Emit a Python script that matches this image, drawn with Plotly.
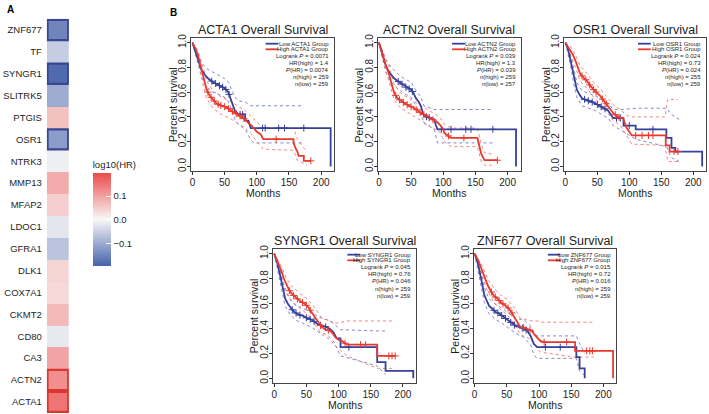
import numpy as np
import plotly.graph_objects as go

W, H = 709, 414
FONT = "Liberation Sans, Arial, Helvetica, sans-serif"
INK = "#1e1e1e"
BLUE = "#35419a"; RED = "#e8392f"
BLUE_DOT = "#6f78c8"; RED_DOT = "#f0776f"

# ── panel A: log10(HR) heatmap ──
GENES = ["ZNF677", "TF", "SYNGR1", "SLITRK5", "PTGIS", "OSR1", "NTRK3", "MMP13", "MFAP2",
         "LDOC1", "GFRA1", "DLK1", "COX7A1", "CKMT2", "CD80", "CA3", "ACTN2", "ACTA1"]
LOG10_HR = [-0.15, -0.056, -0.185, -0.10, 0.062, -0.12, -0.012, 0.085, 0.046,
            -0.023, -0.068, 0.04, 0.036, 0.07, -0.02, 0.095, 0.119, 0.148]
BOX_LOW = ["ZNF677", "SYNGR1", "OSR1"]
BOX_HIGH = ["ACTN2", "ACTA1"]
CB_TICKS = [-0.1, 0.0, 0.1]
CB_LABELS = ["\u22120.1", "0.0", "0.1"]
Z_LIM = 0.195

# ── panel B: Kaplan-Meier curves (months, survival) ──
MONTH_TICKS = [0, 50, 100, 150, 200]
SURV_TICKS = [0.0, 0.2, 0.4, 0.6, 0.8, 1.0]
SURV_LABELS = ["0.0", "0.2", "0.4", "0.6", "0.8", "1.0"]

# ACTA1
ACTA1_LOW_T = [0, 14, 19.3, 24.5, 32.3, 42.7, 50.5, 55.7, 61, 66, 71.4, 81.8, 81.8, 87, 90.6, 214.7, 214.7]
ACTA1_LOW_S = [1.0, 0.78, 0.74, 0.71, 0.68, 0.65, 0.63, 0.60, 0.525, 0.45, 0.42, 0.42, 0.37, 0.37, 0.31, 0.31, 0.0]
ACTA1_HIGH_T = [0, 5, 9, 13, 17, 22, 27, 32, 37, 45, 52, 58, 63, 70, 76, 82, 87, 92, 95, 100, 106, 110, 157, 157, 160, 163, 165, 173, 173, 184]
ACTA1_HIGH_S = [1.0, 0.95, 0.89, 0.80, 0.72, 0.62, 0.57, 0.54, 0.51, 0.49, 0.48, 0.46, 0.44, 0.42, 0.40, 0.38, 0.35, 0.33, 0.31, 0.28, 0.26, 0.22, 0.22, 0.19, 0.15, 0.12, 0.085, 0.085, 0.045, 0.045]
ACTA1_LOW_CI_T = [0, 14, 22, 32, 42, 50, 56, 61, 66, 71, 82, 90, 95, 173]
ACTA1_LOW_CI_UP = [1.0, 0.84, 0.79, 0.76, 0.73, 0.71, 0.68, 0.62, 0.56, 0.53, 0.52, 0.49, 0.49, 0.49]
ACTA1_LOW_CI_DN = [1.0, 0.72, 0.64, 0.60, 0.58, 0.56, 0.52, 0.45, 0.38, 0.34, 0.30, 0.22, 0.19, 0.19]
ACTA1_HIGH_CI_T = [0, 9, 17, 22, 32, 45, 58, 70, 82, 92, 100, 110, 157, 163, 173, 178]
ACTA1_HIGH_CI_UP = [1.0, 0.93, 0.79, 0.69, 0.61, 0.56, 0.53, 0.49, 0.45, 0.40, 0.36, 0.31, 0.31, 0.22, 0.15, 0.12]
ACTA1_HIGH_CI_DN = [1.0, 0.85, 0.65, 0.55, 0.47, 0.42, 0.39, 0.35, 0.31, 0.26, 0.20, 0.14, 0.13, 0.05, 0.02, 0.01]
ACTA1_LOW_CENS = [30, 36, 42, 47, 52, 57, 74, 78, 109, 113, 134, 143, 173]
ACTA1_HIGH_CENS = [24, 29, 34, 40, 44, 50, 56, 62, 68, 74, 80, 130, 184]

# ACTN2
ACTN2_LOW_T = [0, 5, 11, 16, 19, 24, 29, 35, 39, 45, 50, 54, 57.5, 62, 65, 68, 70, 80, 86, 88, 91, 213, 213]
ACTN2_LOW_S = [1.0, 0.92, 0.81, 0.76, 0.74, 0.71, 0.69, 0.67, 0.65, 0.63, 0.62, 0.59, 0.55, 0.52, 0.49, 0.44, 0.41, 0.39, 0.38, 0.34, 0.30, 0.30, 0.0]
ACTN2_HIGH_T = [0, 4, 8, 12, 16, 20, 24, 29, 34, 40, 47, 55, 60, 66, 73, 78, 83, 90, 94, 100, 101.5, 107, 112, 153, 156, 159, 164, 184]
ACTN2_HIGH_S = [1.0, 0.94, 0.86, 0.80, 0.74, 0.66, 0.59, 0.55, 0.53, 0.51, 0.49, 0.47, 0.45, 0.43, 0.41, 0.40, 0.38, 0.36, 0.34, 0.30, 0.27, 0.25, 0.23, 0.23, 0.17, 0.10, 0.05, 0.05]
ACTN2_LOW_CI_T = [0, 11, 19, 29, 39, 50, 57, 65, 70, 86, 91, 177]
ACTN2_LOW_CI_UP = [1.0, 0.86, 0.80, 0.75, 0.71, 0.68, 0.62, 0.56, 0.49, 0.46, 0.46, 0.46]
ACTN2_LOW_CI_DN = [1.0, 0.76, 0.68, 0.63, 0.59, 0.56, 0.49, 0.43, 0.35, 0.30, 0.19, 0.19]
ACTN2_HIGH_CI_T = [0, 8, 16, 24, 34, 47, 60, 73, 83, 94, 102, 112, 153, 159, 164, 175]
ACTN2_HIGH_CI_UP = [1.0, 0.90, 0.80, 0.66, 0.59, 0.55, 0.51, 0.47, 0.44, 0.40, 0.34, 0.31, 0.31, 0.18, 0.11, 0.10]
ACTN2_HIGH_CI_DN = [1.0, 0.82, 0.68, 0.53, 0.47, 0.43, 0.39, 0.35, 0.32, 0.28, 0.20, 0.16, 0.16, 0.04, 0.01, 0.01]
ACTN2_LOW_CENS = [30, 36, 42, 47, 52, 74, 78, 97, 112, 135, 143, 177]
ACTN2_HIGH_CENS = [26, 32, 38, 44, 50, 58, 64, 70, 84, 108, 132, 184]

# OSR1
OSR1_LOW_T = [0, 4, 8, 11, 13, 16, 18, 22, 26, 31, 36, 42, 47, 53, 60, 64, 67, 71, 75, 91, 91, 110, 110, 158, 158, 166, 166, 172, 172, 214, 214]
OSR1_LOW_S = [1.0, 0.95, 0.86, 0.78, 0.73, 0.66, 0.62, 0.58, 0.55, 0.54, 0.53, 0.52, 0.51, 0.49, 0.47, 0.46, 0.45, 0.42, 0.39, 0.39, 0.33, 0.33, 0.30, 0.30, 0.23, 0.23, 0.15, 0.15, 0.12, 0.12, 0.0]
OSR1_HIGH_T = [0, 4, 8, 12, 16, 20, 23, 28, 34, 39, 44, 50, 54.5, 60, 65, 70, 75, 80, 86, 90, 93, 96, 100, 104, 157, 157, 163, 163, 178]
OSR1_HIGH_S = [1.0, 0.97, 0.94, 0.90, 0.85, 0.79, 0.75, 0.72, 0.69, 0.65, 0.62, 0.59, 0.57, 0.53, 0.50, 0.46, 0.43, 0.41, 0.39, 0.39, 0.34, 0.31, 0.28, 0.25, 0.25, 0.17, 0.17, 0.12, 0.12]
OSR1_LOW_CI_T = [0, 8, 13, 18, 26, 36, 47, 60, 67, 75, 91, 110, 158, 166, 178]
OSR1_LOW_CI_UP = [1.0, 0.90, 0.79, 0.68, 0.61, 0.59, 0.57, 0.53, 0.51, 0.46, 0.46, 0.47, 0.47, 0.42, 0.38]
OSR1_LOW_CI_DN = [1.0, 0.82, 0.67, 0.56, 0.49, 0.47, 0.45, 0.41, 0.39, 0.33, 0.28, 0.22, 0.16, 0.07, 0.04]
OSR1_HIGH_CI_T = [0, 8, 16, 23, 34, 44, 54, 65, 75, 86, 96, 104, 156, 160, 176]
OSR1_HIGH_CI_UP = [1.0, 0.97, 0.90, 0.81, 0.75, 0.68, 0.63, 0.56, 0.50, 0.46, 0.41, 0.40, 0.40, 0.54, 0.54]
OSR1_HIGH_CI_DN = [1.0, 0.90, 0.80, 0.69, 0.63, 0.56, 0.51, 0.44, 0.37, 0.33, 0.24, 0.18, 0.17, 0.04, 0.04]
OSR1_LOW_CENS = [30, 36, 42, 50, 56, 62, 80, 86, 100, 137]
OSR1_HIGH_CENS = [26, 32, 38, 44, 48, 58, 64, 78, 84, 110, 120, 130, 137, 170, 176]

# SYNGR1
SYNGR1_LOW_T = [0, 5, 9, 13, 17, 21, 24.5, 28, 32, 38, 45, 52, 58, 64, 69, 76, 82, 88, 92, 95, 97, 103, 103, 160, 160, 173, 173, 216, 216]
SYNGR1_LOW_S = [1.0, 0.92, 0.83, 0.73, 0.64, 0.60, 0.57, 0.55, 0.53, 0.51, 0.50, 0.48, 0.47, 0.45, 0.43, 0.42, 0.41, 0.39, 0.37, 0.34, 0.32, 0.32, 0.25, 0.25, 0.13, 0.13, 0.06, 0.06, 0.0]
SYNGR1_HIGH_T = [0, 6, 11.5, 15, 19, 23, 27, 33, 40, 47, 53, 58, 63.5, 68, 74, 80, 87, 91, 95, 100, 105, 113, 160, 160, 188]
SYNGR1_HIGH_S = [1.0, 0.93, 0.855, 0.80, 0.75, 0.71, 0.68, 0.65, 0.62, 0.60, 0.57, 0.53, 0.49, 0.45, 0.41, 0.39, 0.38, 0.36, 0.33, 0.31, 0.30, 0.27, 0.27, 0.18, 0.18]
SYNGR1_LOW_CI_T = [0, 9, 17, 25, 32, 45, 58, 69, 82, 92, 103, 160, 173]
SYNGR1_LOW_CI_UP = [1.0, 0.88, 0.70, 0.63, 0.59, 0.56, 0.53, 0.49, 0.47, 0.44, 0.39, 0.38, 0.38]
SYNGR1_LOW_CI_DN = [1.0, 0.78, 0.58, 0.51, 0.47, 0.44, 0.41, 0.37, 0.35, 0.30, 0.18, 0.10, 0.03]
SYNGR1_HIGH_CI_T = [0, 11, 19, 27, 40, 53, 64, 74, 87, 95, 113, 160, 188]
SYNGR1_HIGH_CI_UP = [1.0, 0.90, 0.80, 0.74, 0.68, 0.63, 0.56, 0.48, 0.46, 0.44, 0.46, 0.46, 0.46]
SYNGR1_HIGH_CI_DN = [1.0, 0.81, 0.70, 0.62, 0.56, 0.51, 0.43, 0.35, 0.31, 0.26, 0.18, 0.08, 0.08]
SYNGR1_LOW_CENS = [28, 34, 40, 50, 56, 62, 72, 80, 116]
SYNGR1_HIGH_CENS = [24, 30, 36, 44, 50, 56, 72, 84, 110, 134, 142, 178, 183, 188]

# ZNF677
ZNF677_LOW_T = [0, 5, 10, 15, 19, 22.5, 27, 33, 38, 43, 48, 53, 58, 64, 70, 76, 82, 87, 90, 92, 97, 158, 158, 163, 163, 171, 171]
ZNF677_LOW_S = [1.0, 0.92, 0.80, 0.67, 0.62, 0.58, 0.56, 0.53, 0.52, 0.50, 0.48, 0.46, 0.44, 0.42, 0.41, 0.40, 0.38, 0.34, 0.30, 0.275, 0.25, 0.25, 0.17, 0.17, 0.08, 0.08, 0.0]
ZNF677_HIGH_T = [0, 6, 12, 16, 20, 25, 30, 35, 40.5, 46, 51, 56, 61, 66, 71, 80, 89, 93, 97, 102, 108, 156, 156, 215, 215]
ZNF677_HIGH_S = [1.0, 0.94, 0.86, 0.80, 0.75, 0.70, 0.66, 0.64, 0.61, 0.59, 0.57, 0.54, 0.50, 0.45, 0.41, 0.40, 0.38, 0.35, 0.33, 0.30, 0.29, 0.29, 0.22, 0.22, 0.0]
ZNF677_LOW_CI_T = [0, 10, 15, 22, 33, 43, 53, 64, 76, 87, 92, 97, 158, 163, 171]
ZNF677_LOW_CI_UP = [1.0, 0.85, 0.73, 0.64, 0.59, 0.56, 0.52, 0.48, 0.47, 0.42, 0.37, 0.34, 0.34, 0.28, 0.20]
ZNF677_LOW_CI_DN = [1.0, 0.75, 0.61, 0.52, 0.47, 0.44, 0.40, 0.36, 0.33, 0.27, 0.19, 0.16, 0.16, 0.06, 0.02]
ZNF677_HIGH_CI_T = [0, 12, 20, 30, 40, 51, 61, 71, 89, 97, 102, 156, 185]
ZNF677_HIGH_CI_UP = [1.0, 0.90, 0.80, 0.72, 0.67, 0.63, 0.57, 0.48, 0.46, 0.46, 0.45, 0.45, 0.45]
ZNF677_HIGH_CI_DN = [1.0, 0.82, 0.70, 0.61, 0.55, 0.51, 0.44, 0.35, 0.31, 0.25, 0.21, 0.17, 0.17]
ZNF677_LOW_CENS = [30, 36, 42, 48, 56, 62, 74, 80, 110, 133]
ZNF677_HIGH_CENS = [26, 32, 38, 44, 52, 58, 76, 86, 108, 143, 174, 179, 183]

# stats: logrank P, HR(high), P(HR), n(high), n(low)
STATS = {
    "ACTA1": ("0.0071", "1.4", "0.0074", "259", "259"),
    "ACTN2": ("0.039", "1.3", "0.039", "259", "257"),
    "OSR1": ("0.024", "0.73", "0.024", "255", "259"),
    "SYNGR1": ("0.045", "0.76", "0.046", "259", "259"),
    "ZNF677": ("0.015", "0.72", "0.016", "259", "259"),
}

# layout boxes in pixels (left, right, top, bottom)
BOXES = {
    "ACTA1": (190, 333, 34, 169),
    "ACTN2": (377, 520, 34, 169),
    "OSR1": (564, 706, 34, 169),
    "SYNGR1": (272, 415, 247, 383),
    "ZNF677": (473, 616, 247, 383),
}


def fx(px): return px / W
def fy(py): return 1 - py / H


fig = go.Figure()
shapes, notes = [], []

# ── heatmap ──
fig.add_trace(go.Heatmap(
    z=[[v] for v in LOG10_HR], x=[0], y=GENES, zmin=-Z_LIM, zmax=Z_LIM,
    colorscale=[[0, "#4662aa"], [0.5, "#f8f8f8"], [1, "#ec4a4a"]],
    xaxis="x", yaxis="y", hoverinfo="skip",
    colorbar=dict(x=fx(91), xanchor="left", y=fy(265), yanchor="bottom", len=110 / H,
                  thickness=18, outlinewidth=0, xpad=0, ypad=0,
                  tickvals=CB_TICKS, ticktext=CB_LABELS, ticks="inside", ticklen=5,
                  tickcolor="white", tickfont=dict(size=9.5, color=INK, family=FONT),
                  title=dict(text="log10(HR)", side="top", font=dict(size=9.5, color=INK, family=FONT)))))
for g in BOX_LOW + BOX_HIGH:
    i = GENES.index(g)
    shapes.append(dict(type="rect", xref="x", yref="y", x0=-0.47, x1=0.47, y0=i - 0.46, y1=i + 0.46,
                       line=dict(color="#3b4690" if g in BOX_LOW else "#d8382f", width=2.2)))

layout_axes = dict(
    xaxis=dict(domain=[fx(45), fx(67)], range=[-0.5, 0.5], visible=False, fixedrange=True),
    yaxis=dict(domain=[fy(413), fy(15)], autorange="reversed", showgrid=False, zeroline=False,
               ticks="", ticklabelstandoff=4, tickfont=dict(size=9.5, color=INK, family=FONT),
               showline=False),
)

# ── KM panels ──
def step_y(t_arr, s_arr, t):
    return float(np.interp(t, t_arr, s_arr))


order = ["ACTA1", "ACTN2", "OSR1", "SYNGR1", "ZNF677"]
for k, gene in enumerate(order, start=2):
    ax, ay = f"x{k}", f"y{k}"
    g = globals()
    left, right, top, bot = BOXES[gene]
    for grp, col, dcol in (("LOW", BLUE, BLUE_DOT), ("HIGH", RED, RED_DOT)):
        ci_t = g[f"{gene}_{grp}_CI_T"]
        for band in ("UP", "DN"):
            fig.add_trace(go.Scatter(x=ci_t, y=g[f"{gene}_{grp}_CI_{band}"], mode="lines",
                                     line=dict(color=dcol, width=0.9, dash="dot"),
                                     xaxis=ax, yaxis=ay, showlegend=False, hoverinfo="skip"))
    for grp, col in (("LOW", BLUE), ("HIGH", RED)):
        t_arr, s_arr = g[f"{gene}_{grp}_T"], g[f"{gene}_{grp}_S"]
        fig.add_trace(go.Scatter(x=t_arr, y=s_arr, mode="lines", line=dict(color=col, width=1.8),
                                 xaxis=ax, yaxis=ay, showlegend=False))
        cens = g[f"{gene}_{grp}_CENS"]
        fig.add_trace(go.Scatter(x=cens, y=[step_y(t_arr, s_arr, c) for c in cens], mode="markers",
                                 marker=dict(symbol="cross-thin", size=5, line=dict(color=col, width=1)),
                                 xaxis=ax, yaxis=ay, showlegend=False))

    axis_font = dict(size=10, color=INK, family=FONT)
    layout_axes[f"xaxis{k}"] = dict(
        domain=[fx(left), fx(right)], anchor=ay, range=[-1.5, 220], tickvals=MONTH_TICKS,
        ticks="outside", ticklen=3, tickcolor="#333", showline=True, mirror=True, linecolor="#444",
        linewidth=1, showgrid=False, zeroline=False, tickfont=axis_font, ticklabelstandoff=-1)
    layout_axes[f"yaxis{k}"] = dict(
        domain=[fy(bot), fy(top)], anchor=ax, range=[-0.04, 1.04], tickvals=SURV_TICKS,
        ticktext=SURV_LABELS, tickangle=-90, ticks="outside", ticklen=3, tickcolor="#333",
        showline=True, mirror=True, linecolor="#444", linewidth=1, showgrid=False, zeroline=False,
        tickfont=axis_font, ticklabelstandoff=-3)

    # title and axis titles
    title_font = dict(size=10.5, color=INK, family=FONT)
    notes.append(dict(text=f"{gene} Overall Survival", x=fx((left + right) / 2), y=fy(top - 8),
                      xref="paper", yref="paper", showarrow=False, xanchor="center", yanchor="middle",
                      font=dict(size=12.5, color=INK, family=FONT)))
    notes.append(dict(text="Months", x=fx((left + right) / 2), y=fy(bot + 22), xref="paper",
                      yref="paper", showarrow=False, xanchor="center", yanchor="middle", font=title_font))
    notes.append(dict(text="Percent survival", x=fx(left - 19), y=fy((top + bot) / 2), xref="paper",
                      yref="paper", showarrow=False, xanchor="center", yanchor="middle",
                      textangle=-90, font=title_font))
    # legend inside panel
    lp, hr, php, nh, nl = STATS[gene]
    small = dict(size=6.0, color=INK, family=FONT)
    for j, (lab, col) in enumerate(((f"Low {gene} Group", BLUE), (f"High {gene} Group", RED))):
        yy = 0.955 - 0.042 * j
        shapes.append(dict(type="line", xref=f"{ax} domain", yref=f"{ay} domain",
                           x0=0.52, x1=0.61, y0=yy, y1=yy, line=dict(color=col, width=1.8)))
        notes.append(dict(text=lab, x=0.98, y=yy, xref=f"{ax} domain", yref=f"{ay} domain",
                          showarrow=False, xanchor="right", yanchor="middle", font=small))
    rows = [f"Logrank <i>P</i> = {lp}", f"HR(high) = {hr}", f"<i>P</i>(HR) = {php}",
            f"n(high) = {nh}", f"n(low) = {nl}"]
    for j, txt in enumerate(rows):
        notes.append(dict(text=txt, x=0.98, y=0.862 - 0.053 * j, xref=f"{ax} domain",
                          yref=f"{ay} domain", showarrow=False, xanchor="right", yanchor="middle",
                          font=small))

notes.append(dict(text="<b>A</b>", x=fx(3), y=fy(6), xref="paper", yref="paper", showarrow=False,
                  xanchor="left", yanchor="middle", font=dict(size=10, color="#000", family=FONT)))
notes.append(dict(text="<b>B</b>", x=fx(166), y=fy(9), xref="paper", yref="paper", showarrow=False,
                  xanchor="left", yanchor="middle", font=dict(size=10, color="#000", family=FONT)))

fig.update_layout(width=W, height=H, margin=dict(l=0, r=0, t=0, b=0), paper_bgcolor="white",
                  plot_bgcolor="white", showlegend=False, shapes=shapes, annotations=notes,
                  font=dict(family=FONT, color=INK), **layout_axes)
fig.write_html("out.html", config={"displayModeBar": False},
               post_script="document.body.style.margin='0';document.body.style.padding='0';")
